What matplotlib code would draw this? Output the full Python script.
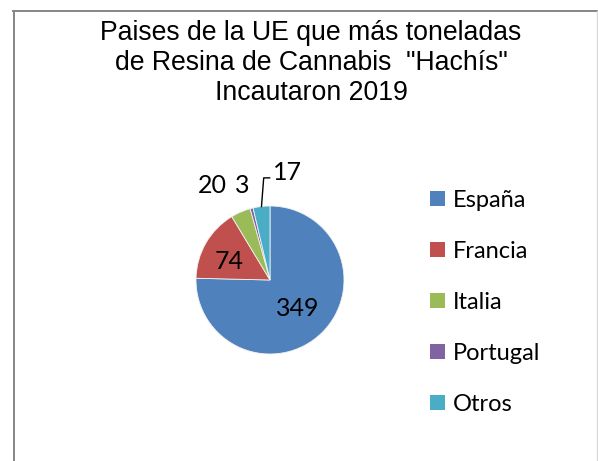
import matplotlib
matplotlib.use("Agg")
import matplotlib.pyplot as plt
from matplotlib.patches import Patch
from matplotlib.lines import Line2D
import numpy as np

# data
paises = ["España", "Francia", "Italia", "Portugal", "Otros"]
toneladas = [349, 74, 20, 3, 17]
colores = ["#4F81BD", "#C0504D", "#9BBB59", "#8064A2", "#4BACC6"]
titulo = 'Paises de la UE que más toneladas\nde Resina de Cannabis  "Hachís"\nIncautaron 2019'

W, H = 598, 461
fig = plt.figure(figsize=(W / 100, H / 100), dpi=100)

# chart frame (excel style)
def px_line(xs, ys, color, lw):
    fig.add_artist(Line2D([x / W for x in xs], [1 - y / H for y in ys],
                          transform=fig.transFigure, color=color, lw=lw))

px_line([13, 597], [11, 11], "#868686", 1.4)
px_line([13.5, 13.5], [11, 461], "#868686", 1.4)
px_line([596.5, 596.5], [11, 461], "#D9D9D9", 1.0)

# baseline of the last title line
fig.text(311 / W, 1 - 100 / H, titulo, ha="center", va="baseline",
         fontsize=19.2, family="Liberation Sans", linespacing=1.2)

# pie axes: centre (270, 280) px, radius 74 px
cx, cy, r = 270, 280, 74
ax = fig.add_axes([(cx - r) / W, (H - cy - r) / H, 2 * r / W, 2 * r / H])
wedges, _ = ax.pie(toneladas, colors=colores, startangle=90, counterclock=False,
                   wedgeprops=dict(edgecolor="#F2F2F2", linewidth=0.6))
ax.set_xlim(-1, 1)
ax.set_ylim(-1, 1)
ax.set_aspect("equal")
ax.axis("off")

# label radius and angle nudge per slice (excel placement)
lab_r = [0.53, 0.60, 1.49, 1.33, 1.47]
lab_da = [0, 6, 8, 2, -16]
lab_font = dict(fontsize=18, family="Lato", color="#000000", ha="center", va="center")
for w, v, lr, da in zip(wedges, toneladas, lab_r, lab_da):
    mid = np.deg2rad((w.theta1 + w.theta2) / 2 + da)
    x, y = lr * np.cos(mid), lr * np.sin(mid)
    ax.text(x, y, str(v), clip_on=False, **lab_font)

# leader line for the small "Otros" slice
w = wedges[-1]
mid = np.deg2rad((w.theta1 + w.theta2) / 2)
x0, y0 = np.cos(mid), np.sin(mid)
ax.plot([x0, x0 + 0.03, x0 + 0.11], [y0, 1.38, 1.38], color="black", lw=1.0, clip_on=False)

handles = [Patch(facecolor=c, edgecolor="none") for c in colores]
fig.legend(handles, paises, loc="upper left", bbox_to_anchor=(430 / W, 1 - 190 / H),
           frameon=False, prop=dict(family="Lato", size=17), handlelength=0.63,
           handleheight=0.63, handletextpad=0.33, labelspacing=1.27, borderpad=0,
           borderaxespad=0)

fig.savefig("out.png", dpi=100)
